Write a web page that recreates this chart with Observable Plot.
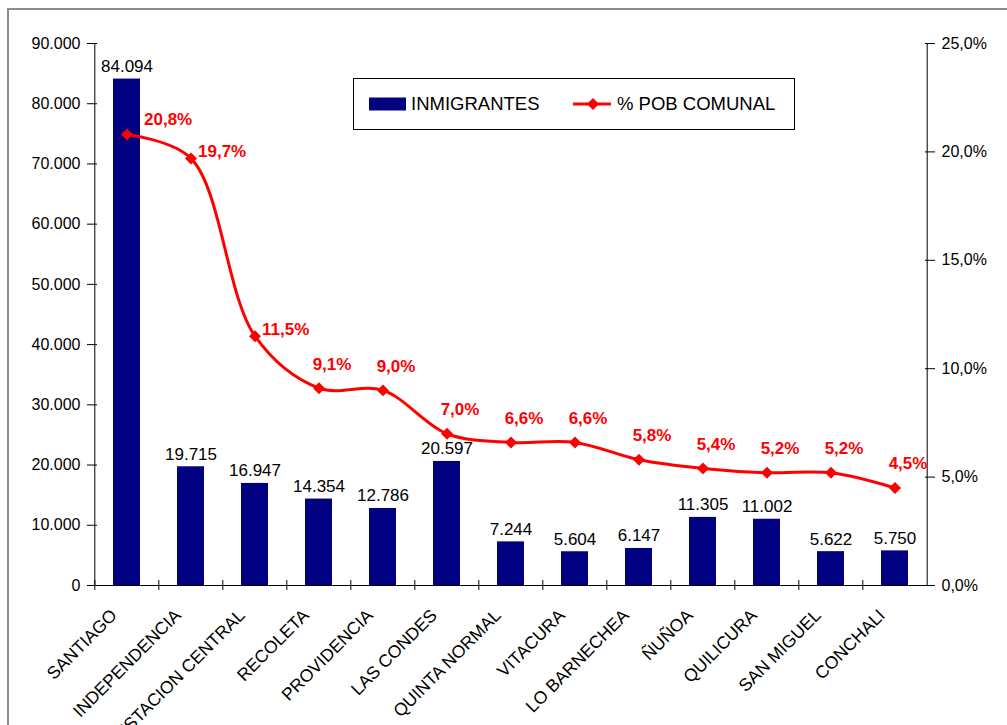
<!DOCTYPE html>
<html>
<head>
<meta charset="utf-8">
<script src="https://cdn.jsdelivr.net/npm/d3@7"></script>
<script src="https://cdn.jsdelivr.net/npm/@observablehq/plot@0.6"></script>
<style>
  html, body { margin: 0; padding: 0; background: #fff; overflow: hidden; width: 1007px; height: 725px; }
  #wrap { position: relative; width: 1007px; height: 725px; overflow: hidden; }
  #border { position: absolute; left: 7px; top: 8px; width: 1100px; height: 800px; border: 2px solid #8c8c8c; box-sizing: border-box; pointer-events: none; }
  #chart { position: absolute; left: 0; top: 0; }
  #legend { position: absolute; left: 353px; top: 78px; width: 442px; height: 52px; box-sizing: border-box; border: 1px solid #000; background: #fff; font-family: 'Liberation Sans', Arial, sans-serif; font-size: 18.5px; color: #000; }
  #legend .item { position: absolute; top: 0; height: 50px; display: flex; align-items: center; }
</style>
</head>
<body>
<div id="wrap">
  <div id="border"></div>
  <div id="chart"></div>
  <div id="legend">
    <div class="item" style="left:15px;">
      <svg width="38" height="14" style="margin-right:4px"><rect x="0" y="0.5" width="37" height="13" fill="#000080"></rect></svg>
      <span>INMIGRANTES</span>
    </div>
    <div class="item" style="left:219px;">
      <svg width="40" height="14" style="margin-right:4px"><line x1="0" y1="7" x2="38" y2="7" stroke="#ff0000" stroke-width="3"></line><path d="M20,1 L26,7 L20,13 L14,7 Z" fill="#ff0000"></path></svg>
      <span>% POB COMUNAL</span>
    </div>
  </div>
</div>
<script>
const comunas = ["SANTIAGO","INDEPENDENCIA","ESTACION CENTRAL","RECOLETA","PROVIDENCIA","LAS CONDES","QUINTA NORMAL","VITACURA","LO BARNECHEA","ÑUÑOA","QUILICURA","SAN MIGUEL","CONCHALI"];
const inmigrantes = [84094,19715,16947,14354,12786,20597,7244,5604,6147,11305,11002,5622,5750];
const pobComunal = [20.8,19.7,11.5,9.1,9.0,7.0,6.6,6.6,5.8,5.4,5.2,5.2,4.5];
const leftTicks = [0,10000,20000,30000,40000,50000,60000,70000,80000,90000];
const rightTicks = [0,5,10,15,20,25];

const data = comunas.map((c, i) => ({comuna: c, inm: inmigrantes[i], pct: pobComunal[i], i}));

const W = 1007, H = 725, ML = 92, MR = 78, MT = 43, MB = 140;
const step = (W - ML - MR) / comunas.length;
const SCALE = 90000 / 25;

const loc = d3.formatLocale({decimal: ",", thousands: ".", grouping: [3], currency: ["$", ""]});
const fmtInt = loc.format(",d");
const fmt1 = loc.format(".1f");
const fmtPct = v => fmt1(v) + "%";

const RED = "#ff0000";
const NAVY = "#000080";

const plot = Plot.plot({
  width: W, height: H,
  marginLeft: ML, marginRight: MR, marginTop: MT, marginBottom: MB,
  style: {fontFamily: "'Liberation Sans', Arial, sans-serif", fontSize: "16px", color: "#000", background: "transparent", overflow: "visible"},
  x: {domain: comunas, paddingInner: 0.573, paddingOuter: 0.2865, label: null},
  y: {domain: [0, 90000], label: null},
  marks: [
    Plot.barY(data, {x: "comuna", y: "inm", fill: NAVY}),
    Plot.ruleY([0], {stroke: "#000", strokeWidth: 1}),
    // axis lines (left and right edges of the category range)
    Plot.ruleX([comunas[0]], {dx: -step / 2, y1: 0, y2: 90000, stroke: "#000"}),
    Plot.ruleX([comunas[comunas.length - 1]], {dx: step / 2, y1: 0, y2: 90000, stroke: "#000"}),
    // category boundary ticks
    Plot.ruleX(comunas, {dx: -step / 2, y1: 0, y2: 0, insetTop: -5, insetBottom: -5, stroke: "#000"}),
    // left axis
    Plot.axisY(leftTicks, {anchor: "left", tickSize: 10, dx: 5, tickFormat: () => ""}),
    Plot.axisY(leftTicks, {anchor: "left", tickSize: 0, tickPadding: 12, tickFormat: fmtInt, fontSize: 16}),
    // right axis (percent)
    Plot.axisY(rightTicks.map(d => d * SCALE), {anchor: "right", tickSize: 10, dx: -5, tickFormat: () => ""}),
    Plot.axisY(rightTicks.map(d => d * SCALE), {anchor: "right", tickSize: 0, tickPadding: 12, tickFormat: v => fmtPct(v / SCALE), fontSize: 16}),
    // x axis labels
    Plot.axisX({anchor: "bottom", tickSize: 0, tickPadding: 0, tickRotate: -45, dx: -13, dy: 27, fontSize: 17.5}),
    // bar value labels
    Plot.text(data, {x: "comuna", y: "inm", text: d => fmtInt(d.inm), lineAnchor: "bottom", dy: -7, fontSize: 17, fill: "#000"}),
    // percent line
    Plot.line(data, {x: "comuna", y: d => d.pct * SCALE, stroke: RED, strokeWidth: 3, curve: "catmull-rom"}),
    Plot.dot(data, {x: "comuna", y: d => d.pct * SCALE, symbol: "diamond2", r: 5.4, fill: RED, stroke: null}),
    // percent labels
    Plot.text(data, {filter: d => d.i === 0, x: "comuna", y: d => d.pct * SCALE, text: d => fmtPct(d.pct), textAnchor: "start", dx: 17, dy: -15, fontSize: 17, fontWeight: "bold", fill: RED}),
    Plot.text(data, {filter: d => d.i > 0 && d.i < 3, x: "comuna", y: d => d.pct * SCALE, text: d => fmtPct(d.pct), textAnchor: "start", dx: 7, dy: -7, fontSize: 17, fontWeight: "bold", fill: RED}),
    Plot.text(data, {filter: d => d.i >= 3, x: "comuna", y: d => d.pct * SCALE, text: d => fmtPct(d.pct), textAnchor: "middle", dx: 13, dy: -24, fontSize: 17, fontWeight: "bold", fill: RED})
  ]
});
document.getElementById("chart").appendChild(plot);
</script>
</body>
</html>
